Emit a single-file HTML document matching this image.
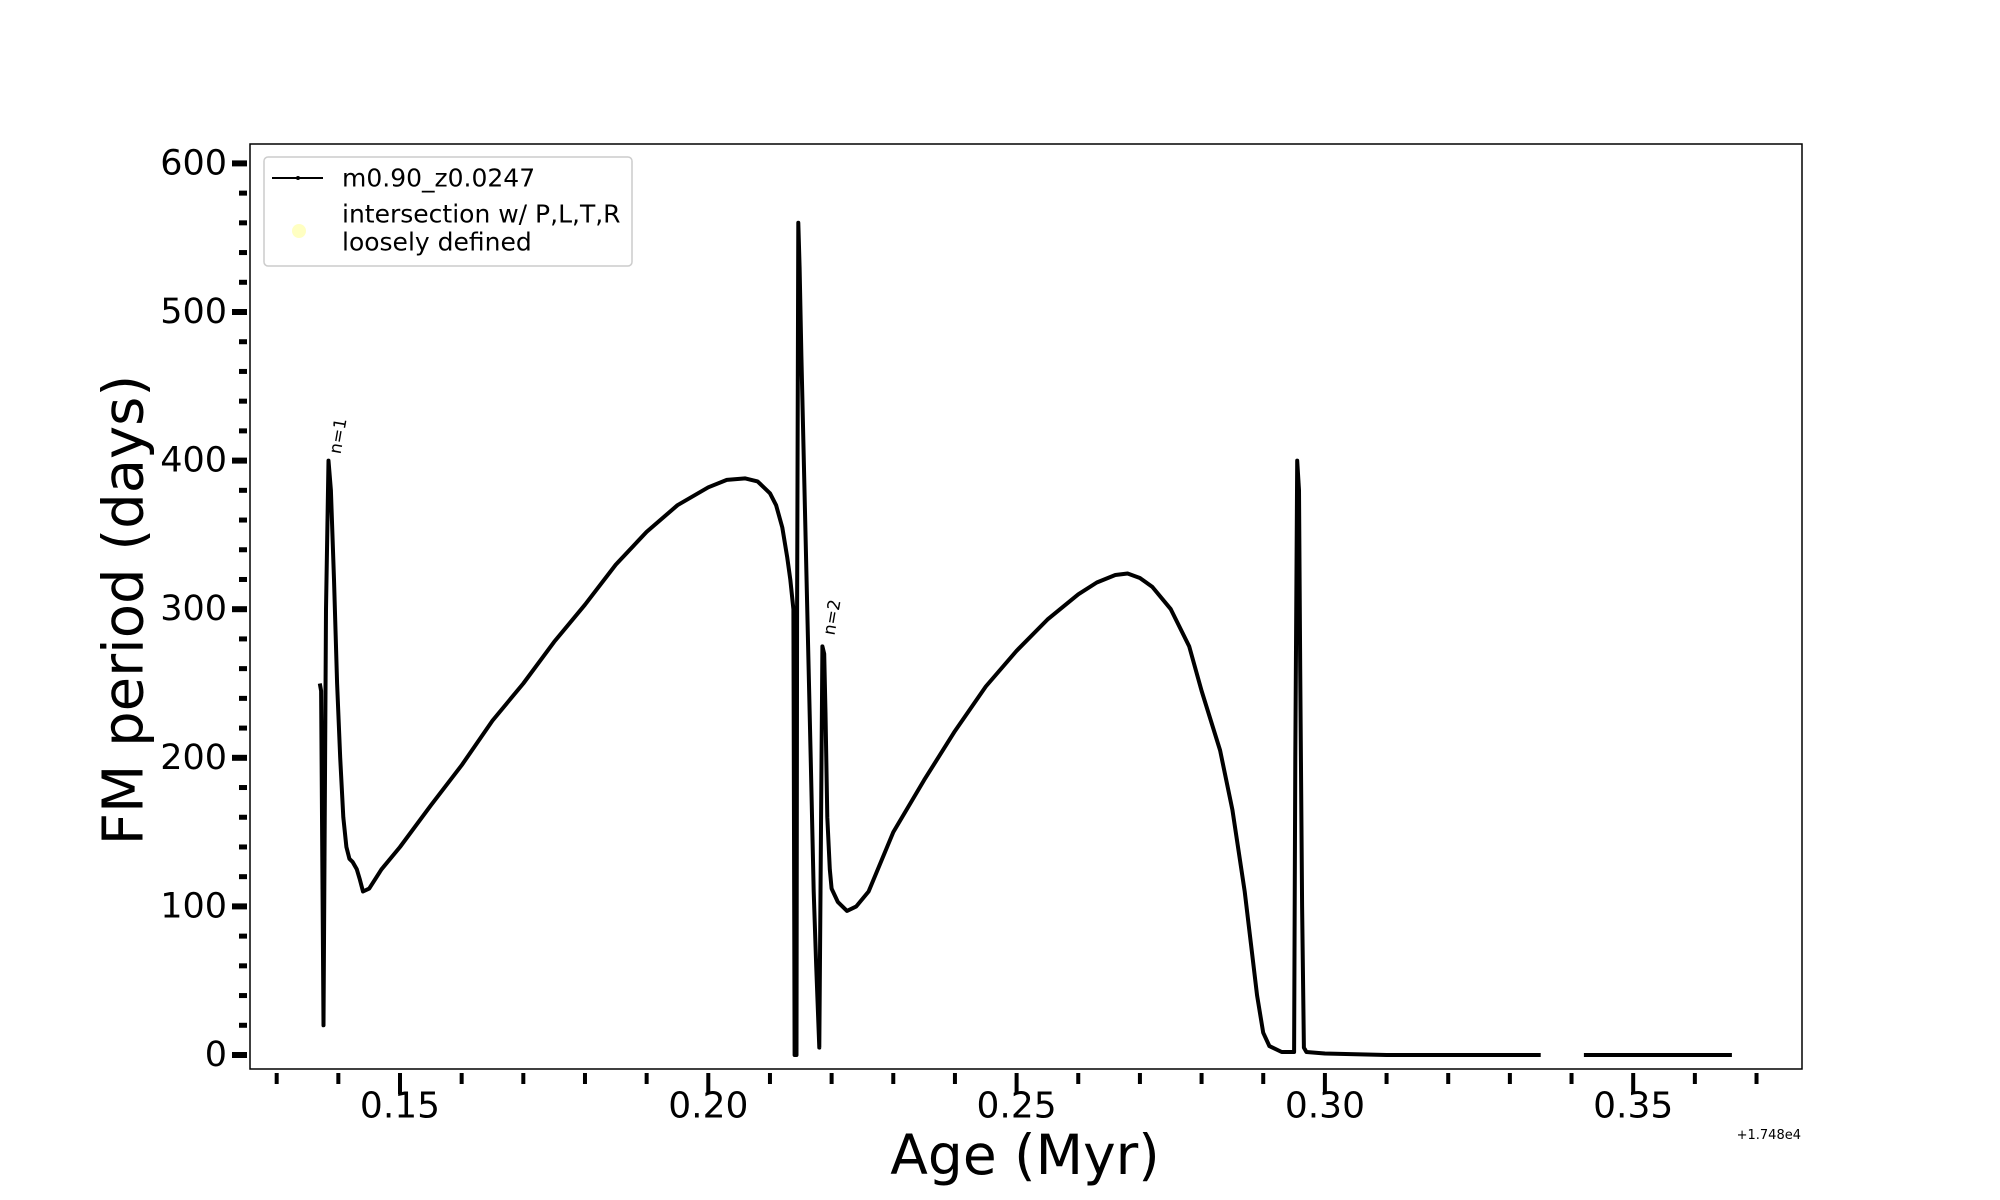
<!DOCTYPE html>
<html><head><meta charset="utf-8"><style>
html,body{margin:0;padding:0;background:#fff;}
svg{display:block;font-family:"DejaVu Sans","Liberation Sans",sans-serif;}
</style></head><body>
<svg id="chart" width="2000" height="1200" viewBox="0 0 2000 1200">
<rect x="0" y="0" width="2000" height="1200" fill="#fff"/>
<g id="marks"></g>
<rect x="250" y="144" width="1552" height="925" fill="none" stroke="#000" stroke-width="1.5"/>
<g id="axes"></g>
<text x="124" y="610" font-size="56" text-anchor="middle" dominant-baseline="central" transform="rotate(-90 124 610)">FM period (days)</text>
<text x="1025" y="1155" font-size="55" text-anchor="middle" dominant-baseline="central">Age (Myr)</text>
<text x="1801" y="1139" font-size="13" text-anchor="end">+1.748e4</text>
<g>
<rect x="264" y="157" width="368" height="109" rx="4" fill="#fff" stroke="#ccc" stroke-width="1.5"/>
<line x1="272" y1="178" x2="323" y2="178" stroke="#000" stroke-width="2"/>
<circle cx="298" cy="178" r="2" fill="#000"/>
<text x="342" y="178" font-size="25" dominant-baseline="central">m0.90_z0.0247</text>
<circle cx="299" cy="231" r="7" fill="#ffffb3" opacity="0.8"/>
<text x="342" y="214" font-size="25" dominant-baseline="central">intersection w/ P,L,T,R</text>
<text x="342" y="242" font-size="25" dominant-baseline="central">loosely defined</text>
</g>
</svg>
<script>
const segAges1 = [0.137,0.1372,0.1376,0.1380,0.1384,0.1388,0.1393,0.1398,0.1403,0.1408,0.1413,0.1418,0.1423,0.143,0.1435,0.144,0.145,0.147,0.15,0.155,0.16,0.165,0.17,0.175,0.18,0.185,0.19,0.195,0.20,0.203,0.206,0.208,0.210,0.211,0.212,0.2128,0.2133,0.2138,0.2140,0.2143,0.2144,0.2146,0.2148,0.2151,0.2156,0.2161,0.2166,0.2171,0.2175,0.2180,0.2185,0.2188,0.219,0.2193,0.2197,0.220,0.221,0.2225,0.224,0.226,0.23,0.235,0.24,0.245,0.25,0.255,0.26,0.263,0.266,0.268,0.270,0.272,0.275,0.278,0.28,0.283,0.285,0.287,0.288,0.289,0.290,0.291,0.293,0.295,0.2952,0.2955,0.2958,0.296,0.2963,0.2966,0.297,0.30,0.31,0.32,0.335];
const segVals1 = [250,245,20,300,400,380,320,250,200,160,140,132,130,125,118,110,112,125,140,168,195,225,250,278,303,330,352,370,382,387,388,386,378,370,355,335,320,300,0,0,300,560,530,470,380,290,200,110,60,5,275,270,230,160,125,112,103,97,100,110,150,185,218,248,272,293,310,318,323,324,321,315,300,275,245,205,165,110,75,40,15,6,2,2,200,400,380,260,100,5,2,1,0,0,0];
const segAges2 = [0.342,0.35,0.36,0.366];
const segVals2 = [0,0,0,0];
const yTicks = [0,100,200,300,400,500,600];
const xTicks = [0.15,0.20,0.25,0.30,0.35];
const xTickLabels = ["0.15","0.20","0.25","0.30","0.35"];

const NS='http://www.w3.org/2000/svg';
function X(v){return 400+(v-0.15)/0.05*308.3;}
function Y(v){return 1055-v*1.486;}
function mk(tag,attrs,parent){const e=document.createElementNS(NS,tag);for(const k in attrs)e.setAttribute(k,attrs[k]);parent.appendChild(e);return e;}
const marks=document.getElementById('marks');
const axes=document.getElementById('axes');
function drawSeg(ages,vals,name){
  const pts=ages.map((a,i)=>X(a).toFixed(1)+','+Y(vals[i]).toFixed(1)).join(' ');
  const pl=mk('polyline',{points:pts,fill:'none',stroke:'#000','stroke-width':4,'stroke-linejoin':'round'},marks);
  
  
}
drawSeg(segAges1,segVals1,'series-line-main');
drawSeg(segAges2,segVals2,'series-line-tail');
for(let v=0;v<=600;v+=20){
  const major=v%100===0;
  const t=mk('line',{x1:major?232:239,x2:247,y1:Y(v),y2:Y(v),stroke:'#000','stroke-width':major?6:5},axes);
  
  
}
yTicks.forEach(v=>{
  const t=mk('text',{x:227,y:Y(v),'font-size':35,'text-anchor':'end','dominant-baseline':'central'},axes);
  t.textContent=String(v);
  
  
});
for(let i=13;i<=37;i++){
  const v=i/100;const major=i%5===0;
  const t=mk('line',{x1:X(v),x2:X(v),y1:1073,y2:major?1094:1084,stroke:'#000','stroke-width':4},axes);
  
  
}
xTicks.forEach((v,i)=>{
  const t=mk('text',{x:X(v),y:1106,'font-size':36,'text-anchor':'middle','dominant-baseline':'central'},axes);
  t.textContent=xTickLabels[i];
  
  
});
function ann(txt,age,val,name){
  const x=X(age)+12,y=Y(val)-6;
  const t=mk('text',{x:x,y:y,'font-size':17,transform:'rotate(-80 '+x+' '+y+')'},marks);
  t.textContent=txt;
  
  
}
ann('n=1',0.1384,400,'annotation-n1');
ann('n=2',0.2185,278,'annotation-n2');
</script>
</body></html>
